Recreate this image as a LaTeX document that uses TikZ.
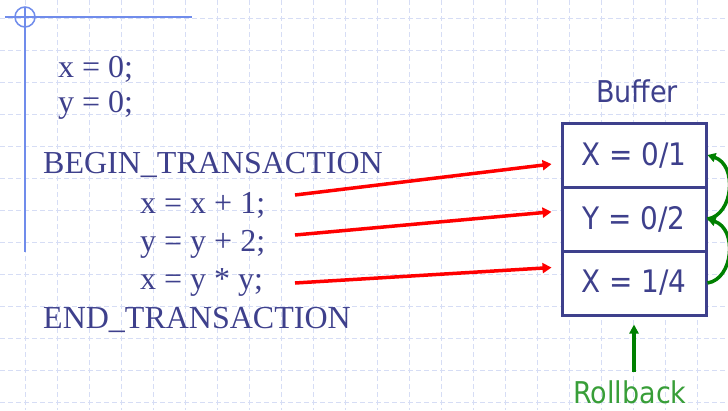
\documentclass[tikz,border=0pt]{standalone}
\usepackage{fontspec}
\setmainfont{Liberation Serif}
\newfontfamily\bufferfont{DejaVu Sans Condensed}
\usepackage{tikz}
\usetikzlibrary{arrows.meta}

\definecolor{txtblue}{RGB}{62,64,140}
\definecolor{gridblue}{RGB}{214,221,245}
\definecolor{ruleblue}{RGB}{112,140,235}
\definecolor{backgreen}{RGB}{0,128,0}
\definecolor{rollgreen}{RGB}{56,158,56}

\tikzset{
    gridline/.style={gridblue, line width=0.8pt, dash pattern=on 5pt off 3pt},
    code/.style={inner sep=0pt, text=txtblue, font=\fontsize{32}{38}\selectfont},
    bufcell/.style={draw=txtblue, line width=3pt, fill=white, minimum width=144pt,
        minimum height=64pt, inner sep=0pt, text=txtblue, font=\bufferfont\fontsize{31}{36}\selectfont},
    setarrow/.style={red, line width=3.5pt, -{Triangle[length=9pt,width=10pt]}, shorten >=9pt},
    backarrow/.style={backgreen, line width=3.5pt, -{Triangle[length=8pt,width=9pt]}}
}

\begin{document}
\begin{tikzpicture}[x=1pt, y=-1pt]
    \useasboundingbox (0,0) rectangle (728,410);

    % Grid
    \foreach \x in {25,57,...,697}
        \draw[gridline] (\x,0) -- (\x,410);
    \foreach \y in {18,50,...,402}
        \draw[gridline] (0,\y) -- (728,\y);

    % Corner mark
    \draw[ruleblue, line width=1.5pt] (5,17) -- (192,17);
    \draw[ruleblue, line width=1.5pt] (25,7) -- (25,252);
    \draw[ruleblue, line width=1.5pt] (25,17) circle (10);

    % Transaction code
    \node[code, anchor=base west] (initx) at (58,77) {x = 0;};
    \node[code, anchor=base west] (inity) at (58,112) {y = 0;};
    \node[code, anchor=base west] (begin) at (43,173) {BEGIN\_TRANSACTION};
    \node[code, anchor=base west] (stepA) at (140,213) {x = x + 1;};
    \node[code, anchor=base west] (stepB) at (140,251) {y = y + 2;};
    \node[code, anchor=base west] (stepC) at (140,289) {x = y * y;};
    \node[code, anchor=base west] (end) at (43,328) {END\_TRANSACTION};

    % Buffer
    \node[bufcell] (bufA) at (634,155) {X = 0/1};
    \node[bufcell] (bufB) at (634,219) {Y = 0/2};
    \node[bufcell] (bufC) at (634,283) {X = 1/4};
    \node[inner sep=0pt, anchor=base, text=txtblue, font=\bufferfont\fontsize{30}{36}\selectfont]
        (buflabel) at (637,102) {Buffer};

    % Writes into the buffer
    \coordinate (srcA) at (295,195);
    \coordinate (srcB) at (295,235);
    \coordinate (srcC) at (295,283);
    \draw[setarrow] (srcA) -- ([yshift=-8pt]bufA.west);
    \draw[setarrow] (srcB) -- ([yshift=8pt]bufB.west);
    \draw[setarrow] (srcC) -- ([yshift=16pt]bufC.west);

    % Undo chain
    \draw[backarrow] (bufC.east) .. controls +(26,-4) and +(30,10) .. (bufB.east);
    \draw[backarrow] (bufB.east) .. controls +(26,-4) and +(30,10) .. (bufA.east);

    % Rollback
    \node[inner sep=0pt, anchor=base, text=rollgreen, font=\bufferfont\fontsize{30}{36}\selectfont]
        (rollback) at (630,403) {Rollback};
    \draw[backgreen, line width=3.5pt, -{Triangle[length=9pt,width=9pt]}, shorten <=8pt, shorten >=8pt]
        (bufC.south |- rollback.north) -- (bufC.south);
\end{tikzpicture}
\end{document}
